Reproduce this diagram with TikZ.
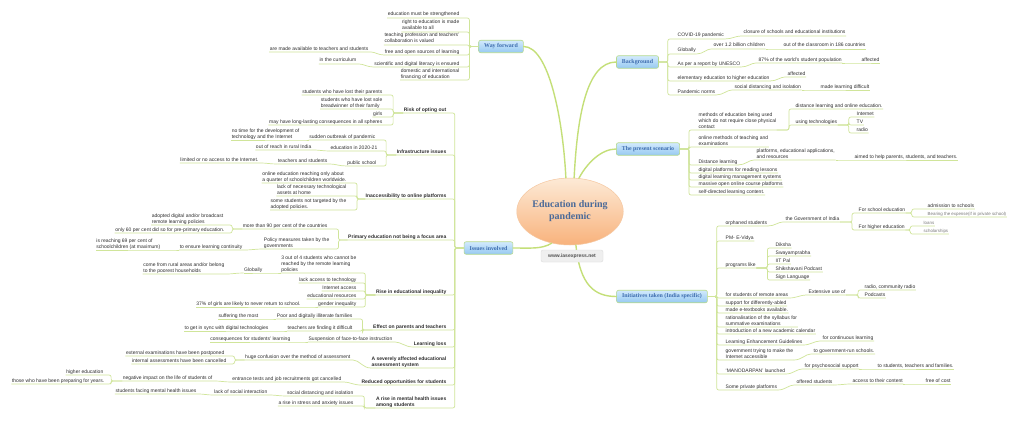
\documentclass[tikz,border=0pt]{standalone}
\usepackage{fontspec}
\setmainfont{Liberation Sans}
\newfontfamily\serifb{Liberation Serif}
\usetikzlibrary{shapes.geometric}
\definecolor{textc}{HTML}{2E2E2E}
\definecolor{linec}{HTML}{D0E59A}
\definecolor{branchc}{HTML}{C4DF78}
\definecolor{boxborder}{HTML}{B7DA8E}
\definecolor{boxtop}{HTML}{D2EAFD}
\definecolor{boxbot}{HTML}{96C9F1}
\definecolor{boxtext}{HTML}{3D6CAE}
\definecolor{hubtop}{HTML}{FDEAD6}
\definecolor{hubbot}{HTML}{F8B27C}
\definecolor{hubborder}{HTML}{F5C7A0}
\definecolor{hubtext}{HTML}{4B6A98}
\definecolor{urlfill}{HTML}{EFEFEF}
\definecolor{urldraw}{HTML}{DCDCDC}
\definecolor{urltext}{HTML}{505050}
\definecolor{smallc}{HTML}{7A7A7A}
\tikzset{
  txt/.style={font=\fontsize{5}{6}\selectfont, text=textc, inner xsep=0.5pt, inner ysep=0.7pt, text depth=1.1pt, align=left},
  lt/.style={txt, anchor=south east},
  rt/.style={txt, anchor=south west},
  lb/.style={lt, font=\fontsize{5}{6}\selectfont\bfseries},
  sm/.style={rt, font=\fontsize{4.4}{5.2}\selectfont, text=smallc},
  conn/.style={draw=linec, line width=0.7pt, rounded corners=2pt},
  branch/.style={draw=branchc, line width=1.4pt, line cap=round},
  mainbox/.style={draw=boxborder, line width=0.6pt, rounded corners=2pt, top color=boxtop, bottom color=boxbot, font=\serifb\bfseries\fontsize{5.9}{7}\selectfont, text=boxtext, inner xsep=5.5pt, inner ysep=1pt, minimum height=12.5pt},
  hub/.style={ellipse, minimum width=92pt, minimum height=67pt, top color=hubtop, bottom color=hubbot, draw=hubborder, line width=0.5pt, font=\serifb\bfseries\fontsize{10}{12}\selectfont, text=hubtext, align=center, inner sep=0pt},
  urlbox/.style={rounded corners=2pt, fill=urlfill, draw=urldraw, line width=0.4pt, font=\bfseries\fontsize{5}{6}\selectfont, text=urltext, minimum width=62pt, minimum height=12pt, inner sep=1pt}
}
\newcommand\LBr[3]{\draw[conn] (#1) -- ++(-#3,0) |- (#2.south east) -- (#2.south west);}
\newcommand\RBr[3]{\draw[conn] (#1) -- ++(#3,0) |- (#2.south west) -- (#2.south east);}
\newcommand\LCv[2]{\draw[conn] (#1.south west) to[out=180,in=0] (#2.south east) -- (#2.south west);}
\newcommand\RCv[2]{\draw[conn] (#1.south east) to[out=0,in=180] (#2.south west) -- (#2.south east);}
\begin{document}
\begin{tikzpicture}[x=1pt,y=-1pt]
\fill[white] (0,0) rectangle (1024,420);
\useasboundingbox (0,0) rectangle (1024,420);

% main nodes
\node[hub] (C) at (570,211.5) {Education during\\pandemic};
\node[mainbox] (WF) at (501,46.5) {Way forward};
\node[mainbox] (BG) at (637.5,62) {Background};
\node[mainbox] (PS) at (648,149) {The present scenario};
\node[mainbox] (IS) at (488.5,248) {Issues involved};
\node[mainbox] (IN) at (662,296.5) {Initiatives taken (India specific)};

% branches
\draw[branch] (C.97) .. controls +(-3,-60) and +(25,0) .. (WF.east);
\draw[branch] (C.83) .. controls +(3,-60) and +(-30,0) .. (BG.west);
\draw[branch] (C.75) .. controls +(8,-15) and +(-15,0) .. (PS.west);
\draw[branch] (IS.east) .. controls +(18,0) and +(-10,6) .. (C.240);
\draw[branch] (C.-80) .. controls +(4,40) and +(-22,0) .. (IN.west);
\node[urlbox] (U) at (572,256) {www.iasexpress.net};

% ---------------- Way forward
\node[lt] (w1) at (460,18) {education must be strengthened};
\node[lt] (w2) at (460,32) {right to education is made\\available to all};
\node[lt] (w3) at (460,45) {teaching profession and teachers'\\collaboration is valued};
\node[lt] (w4) at (460,55) {free and open sources of learning};
\node[lt] (w5) at (460,67) {scientific and digital literacy is ensured};
\node[lt] (w6) at (460,80) {domestic and international\\financing of education};
\node[lt] (w4a) at (369,52) {are made available to teachers and students};
\node[lt] (w5a) at (357,64) {in the curriculum};
\LBr{WF.west}{w1}{9}\LBr{WF.west}{w2}{9}\LBr{WF.west}{w3}{9}
\LBr{WF.west}{w4}{9}\LBr{WF.west}{w5}{9}\LBr{WF.west}{w6}{9}
\LCv{w4}{w4a}\LCv{w5}{w5a}

% ---------------- Issues involved
\node[lb] (r1) at (447,113) {Risk of opting out};
\node[lb] (r2) at (447,155) {Infrastructure issues};
\node[lb] (r3) at (447,199) {Inaccessibility to online platforms};
\node[lb] (r4) at (447,240) {Primary education not being a focus area};
\node[lb] (r5) at (447,295) {Rise in educational inequality};
\node[lb] (r6) at (447,330) {Effect on parents and teachers};
\node[lb] (r7) at (447,347) {Learning loss};
\node[lb] (r8) at (447,368) {A severely affected educational\\assessment system};
\node[lb] (r9) at (447,385) {Reduced opportunities for students};
\node[lb] (r10) at (447,408) {A rise in mental health issues\\among students};
\LBr{IS.west}{r1}{9}\LBr{IS.west}{r2}{9}\LBr{IS.west}{r3}{9}\LBr{IS.west}{r4}{9}
\LBr{IS.west}{r5}{9}\LBr{IS.west}{r6}{9}\LBr{IS.west}{r7}{9}\LBr{IS.west}{r8}{9}
\LBr{IS.west}{r9}{9}\LBr{IS.west}{r10}{9}

% Risk of opting out
\node[lt] (a1) at (383,95) {students who have lost their parents};
\node[lt] (a2) at (383,109) {students who have lost sole\\breadwinner of their family};
\node[lt] (a3) at (383,117) {girls};
\node[lt] (a4) at (383,125) {may have long-lasting consequences in all spheres};
\LBr{r1.south west}{a1}{10}\LBr{r1.south west}{a2}{10}\LBr{r1.south west}{a3}{10}\LBr{r1.south west}{a4}{10}

% Infrastructure issues
\node[lt] (b1) at (376,140) {sudden outbreak of pandemic};
\node[lt] (b1a) at (300,140) {no time for the development of\\technology and the Internet};
\node[lt] (b2) at (378,151) {education in 2020-21};
\node[lt] (b2a) at (312,150) {out of reach in rural India};
\node[lt] (b3) at (377,166) {public school};
\node[lt] (b3a) at (328,164) {teachers and students};
\node[lt] (b3b) at (259,163) {limited or no access to the Internet.};
\LBr{r2.south west}{b1}{10}\LBr{r2.south west}{b2}{10}\LBr{r2.south west}{b3}{10}
\LCv{b1}{b1a}\LCv{b2}{b2a}\LCv{b3}{b3a}\LCv{b3a}{b3b}

% Inaccessibility
\node[lt] (c1) at (347,183) {online education reaching only about\\a quarter of schoolchildren worldwide.};
\node[lt] (c2) at (347,196) {lack of necessary technological\\assets at home};
\node[lt] (c3) at (347,210) {some students not targeted by the\\adopted policies.};
\LBr{r3.south west}{c1}{8}\LBr{r3.south west}{c2}{8}\LBr{r3.south west}{c3}{8}

% Primary education
\node[lt] (d1) at (328,229) {more than 90 per cent of the countries};
\node[lt] (d2) at (330,249) {Policy measures taken by the\\governments};
\node[lt] (d1a) at (224,225) {adopted digital and/or broadcast\\remote learning policies};
\node[lt] (d1b) at (225,233) {only 60 per cent did so for pre-primary education.};
\node[lt] (d2a) at (243,250) {to ensure learning continuity};
\node[lt] (d2b) at (161,250) {is reaching 69 per cent of\\schoolchildren (at maximum)};
\LBr{r4.south west}{d1}{9}\LBr{r4.south west}{d2}{9}
\LBr{d1.south west}{d1a}{10}\LBr{d1.south west}{d1b}{10}
\LCv{d2}{d2a}\LCv{d2a}{d2b}

% Rise in educational inequality
\node[lt] (e1) at (357,273) {3 out of 4 students who cannot be\\reached by the remote learning\\policies};
\node[lt] (e1a) at (263,273) {Globally};
\node[lt] (e1b) at (225,274) {come from rural areas and/or belong\\to the poorest households};
\node[lt] (e2) at (357,283) {lack access to technology};
\node[lt] (e3) at (357,291) {Internet access};
\node[lt] (e4) at (357,299) {educational resources};
\node[lt] (e5) at (357,307) {gender inequality};
\node[lt] (e5a) at (301,307) {37\% of girls are likely to never return to school.};
\LBr{r5.south west}{e1}{10}\LBr{r5.south west}{e2}{10}\LBr{r5.south west}{e3}{10}
\LBr{r5.south west}{e4}{10}\LBr{r5.south west}{e5}{10}
\LCv{e1}{e1a}\LCv{e1a}{e1b}\LCv{e5}{e5a}

% Effect on parents and teachers
\node[lt] (f1) at (353,319) {Poor and digitally illiterate families};
\node[lt] (f1a) at (259,319) {suffering the most};
\node[lt] (f2) at (353,331) {teachers are finding it difficult};
\node[lt] (f2a) at (269,331) {to get in sync with digital technologies};
\LBr{r6.south west}{f1}{10}\LBr{r6.south west}{f2}{10}
\LCv{f1}{f1a}\LCv{f2}{f2a}

% Learning loss
\node[lt] (g1) at (393,342) {Suspension of face-to-face instruction};
\node[lt] (g1a) at (291,342) {consequences for students' learning};
\LCv{r7}{g1}\LCv{g1}{g1a}

% Assessment system
\node[lt] (h1) at (351,360) {huge confusion over the method of assessment};
\node[lt] (h1a) at (225,356) {external examinations have been postponed};
\node[lt] (h1b) at (227,364) {internal assessments have been cancelled};
\LCv{r8}{h1}\LBr{h1.south west}{h1a}{10}\LBr{h1.south west}{h1b}{10}

% Reduced opportunities
\node[lt] (i1) at (342,382) {entrance tests and job recruitments got cancelled};
\node[lt] (i1a) at (213,381) {negative impact on the life of students of};
\node[lt] (i1b) at (104,375) {higher education};
\node[lt] (i1c) at (105,384) {those who have been preparing for years.};
\LCv{r9}{i1}\LCv{i1}{i1a}\LBr{i1a.south west}{i1b}{11}\LBr{i1a.south west}{i1c}{11}

% Mental health
\node[lt] (j1) at (354,396) {social distancing and isolation};
\node[lt] (j1a) at (268,395) {lack of social interaction};
\node[lt] (j1b) at (197,394) {students facing mental health issues};
\node[lt] (j2) at (354,406) {a rise in stress and anxiety issues};
\LBr{r10.south west}{j1}{11}\LBr{r10.south west}{j2}{11}
\LCv{j1}{j1a}\LCv{j1a}{j1b}

% ---------------- Background
\node[rt] (k1) at (677,39) {COVID-19 pandemic};
\node[rt] (k1a) at (743,36) {closure of schools and educational institutions};
\node[rt] (k2) at (677,54) {Globally};
\node[rt] (k2a) at (713,49) {over 1.2 billion children};
\node[rt] (k2b) at (783,49) {out of the classroom in 186 countries};
\node[rt] (k3) at (677,67) {As per a report by UNESCO};
\node[rt] (k3a) at (758,63) {87\% of the world's student population};
\node[rt] (k3b) at (861,63) {affected};
\node[rt] (k4) at (677,81) {elementary education to higher education};
\node[rt] (k4a) at (787,77) {affected};
\node[rt] (k5) at (677,95) {Pandemic norms};
\node[rt] (k5a) at (734,90) {social distancing and isolation};
\node[rt] (k5b) at (820,90) {made learning difficult};
\RBr{BG.east}{k1}{9}\RBr{BG.east}{k2}{9}\RBr{BG.east}{k3}{9}\RBr{BG.east}{k4}{9}\RBr{BG.east}{k5}{9}
\RCv{k1}{k1a}\RCv{k2}{k2a}\RCv{k2a}{k2b}\RCv{k3}{k3a}\RCv{k3a}{k3b}
\RCv{k4}{k4a}\RCv{k5}{k5a}\RCv{k5a}{k5b}

% ---------------- The present scenario
\node[rt] (m1) at (698,130) {methods of education being used\\which do not require close physical\\contact};
\node[rt] (m1a) at (795,109) {distance learning and online education.};
\node[rt] (m1b) at (795,125) {using technologies};
\node[rt] (m1c) at (856,117) {Internet};
\node[rt] (m1d) at (856,125) {TV};
\node[rt] (m1e) at (856,133) {radio};
\node[rt] (m2) at (698,147) {online methods of teaching and\\examinations};
\node[rt] (m3) at (698,165) {Distance learning};
\node[rt] (m3a) at (756,160) {platforms, educational applications,\\and resources};
\node[rt] (m3b) at (854,160) {aimed to help parents, students, and teachers.};
\node[rt] (m4) at (698,173) {digital platforms for reading lessons};
\node[rt] (m5) at (698,180) {digital learning management systems};
\node[rt] (m6) at (698,187) {massive open online course platforms};
\node[rt] (m7) at (698,195) {self-directed learning content.};
\RBr{PS.east}{m1}{9}\RBr{PS.east}{m2}{9}\RBr{PS.east}{m3}{9}\RBr{PS.east}{m4}{9}
\RBr{PS.east}{m5}{9}\RBr{PS.east}{m6}{9}\RBr{PS.east}{m7}{9}
\RBr{m1.south east}{m1a}{12}\RBr{m1.south east}{m1b}{12}
\RBr{m1b.south east}{m1c}{11}\RBr{m1b.south east}{m1d}{11}\RBr{m1b.south east}{m1e}{11}
\RCv{m3}{m3a}\RCv{m3a}{m3b}

% ---------------- Initiatives
\node[rt] (n1) at (725,226) {orphaned students};
\node[rt] (n1a) at (785,222) {the Government of India};
\node[rt] (n1b) at (858,213) {For school education};
\node[rt] (n1c) at (927,209) {admission to schools};
\node[sm] (n1d) at (927,217) {Bearing the expense(if in private school)};
\node[rt] (n1e) at (858,230) {For higher education};
\node[sm] (n1f) at (923,226) {loans};
\node[sm] (n1g) at (923,234) {scholarships};
\node[rt] (n2) at (725,241) {PM- E-Vidya};
\node[rt] (n3) at (725,268) {programs like};
\node[rt] (n3a) at (775,248) {Diksha};
\node[rt] (n3b) at (775,256) {Swayamprabha};
\node[rt] (n3c) at (775,264) {IIT Pal};
\node[rt] (n3d) at (775,272) {Shikshavani Podcast};
\node[rt] (n3e) at (775,280) {Sign Language};
\node[rt] (n4) at (725,298) {for students of remote areas};
\node[rt] (n4a) at (808,295) {Extensive use of};
\node[rt] (n4b) at (864,290) {radio, community radio};
\node[rt] (n4c) at (864,298) {Podcasts};
\node[rt] (n5) at (725,306) {support for differently-abled};
\node[rt] (n6) at (725,313) {made e-textbooks available.};
\node[rt] (n7) at (725,327) {rationalisation of the syllabus for\\summative examinations};
\node[rt] (n8) at (725,334) {introduction of a new academic calendar};
\node[rt] (n9) at (725,345) {Learning Enhancement Guidelines};
\node[rt] (n9a) at (822,341) {for continuous learning};
\node[rt] (n10) at (725,360) {government trying to make the\\Internet accessible};
\node[rt] (n10a) at (813,354) {to government-run schools.};
\node[rt] (n11) at (725,374) {`MANODARPAN' launched};
\node[rt] (n11a) at (804,369) {for psychosocial support};
\node[rt] (n11b) at (877,369) {to students, teachers and families.};
\node[rt] (n12) at (725,390) {Some private platforms};
\node[rt] (n12a) at (796,385) {offered students};
\node[rt] (n12b) at (852,384) {access to their content};
\node[rt] (n12c) at (925,384) {free of cost};
\RBr{IN.east}{n1}{9}\RBr{IN.east}{n2}{9}\RBr{IN.east}{n3}{9}\RBr{IN.east}{n4}{9}
\RBr{IN.east}{n5}{9}\RBr{IN.east}{n6}{9}\RBr{IN.east}{n7}{9}\RBr{IN.east}{n8}{9}
\RBr{IN.east}{n9}{9}\RBr{IN.east}{n10}{9}\RBr{IN.east}{n11}{9}\RBr{IN.east}{n12}{9}
\RCv{n1}{n1a}
\RBr{n1a.south east}{n1b}{12}\RBr{n1a.south east}{n1e}{12}
\RBr{n1b.south east}{n1c}{6}\RBr{n1b.south east}{n1d}{6}
\RBr{n1e.south east}{n1f}{5}\RBr{n1e.south east}{n1g}{5}
\RBr{n3.south east}{n3a}{11}\RBr{n3.south east}{n3b}{11}\RBr{n3.south east}{n3c}{11}
\RBr{n3.south east}{n3d}{11}\RBr{n3.south east}{n3e}{11}
\RCv{n4}{n4a}\RBr{n4a.south east}{n4b}{12}\RBr{n4a.south east}{n4c}{12}
\RCv{n9}{n9a}\RCv{n10}{n10a}\RCv{n11}{n11a}\RCv{n11a}{n11b}
\RCv{n12}{n12a}\RCv{n12a}{n12b}\RCv{n12b}{n12c}
\end{tikzpicture}
\end{document}
